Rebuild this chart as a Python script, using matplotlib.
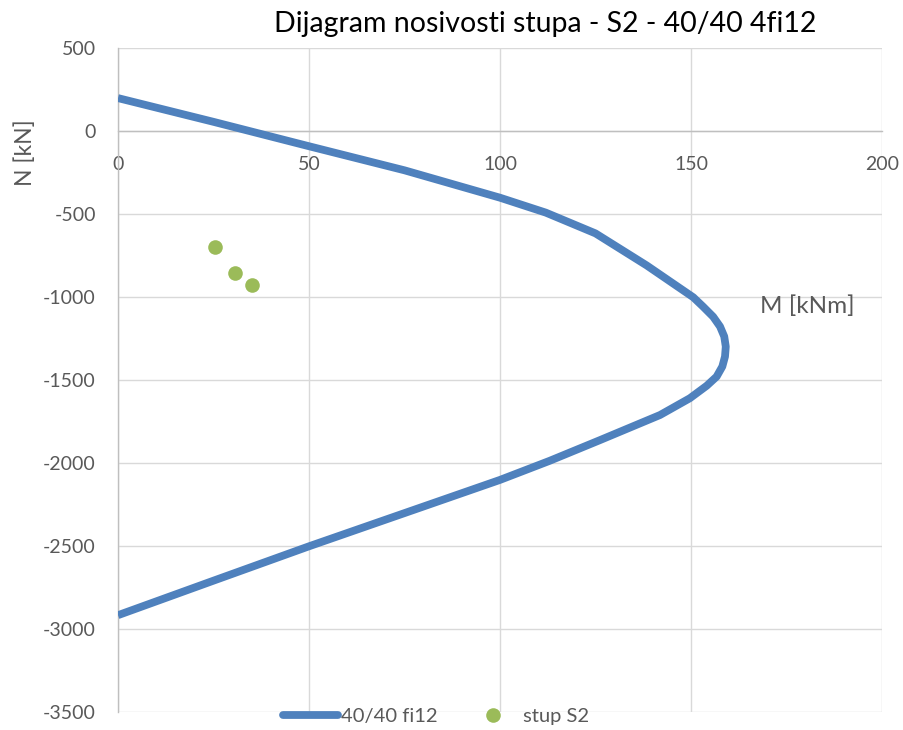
import numpy as np
import matplotlib
matplotlib.use("Agg")
import matplotlib.pyplot as plt
from matplotlib.lines import Line2D

plt.rcParams['font.family'] = ['Lato', 'DejaVu Sans']
plt.rcParams['axes.unicode_minus'] = False

# --- podaci: dijagram nosivosti (M, N) ---
M_kNm = [0, 25, 50, 75, 100, 112, 125, 138.4, 150.6, 153.2, 155.8, 157.6, 158.7, 159.1,
         158.9, 158.2, 156.7, 154.1, 149.7, 141.9, 126.2, 113, 100, 75, 50, 25, 0]
N_kN = [200, 57, -90, -235, -400, -490, -615, -808, -1000, -1057, -1117, -1176, -1236, -1297,
        -1357, -1417, -1478, -1533, -1608, -1709, -1860, -1985, -2100, -2300, -2500, -2707, -2915]

# --- stup S2 (M, N) ---
stup_M = [25.3, 30.6, 35.0]
stup_N = [-697, -856, -928]

x_ticks = [0, 50, 100, 150, 200]
y_ticks = [500, 0, -500, -1000, -1500, -2000, -2500, -3000, -3500]

BLUE = '#4F81BD'
GREEN = '#9BBB59'
GRAY_TXT = '#595959'

fig = plt.figure(figsize=(9.04, 7.30), dpi=100)
ax = fig.add_axes([118 / 904, 1 - 712.3 / 730, 764 / 904, 664 / 730])

ax.plot(M_kNm, N_kN, color=BLUE, linewidth=5.6, solid_joinstyle='round',
        solid_capstyle='butt', zorder=3)
ax.plot(stup_M, stup_N, linestyle='none', marker='o', markersize=10.5,
        color=GREEN, markeredgewidth=0, zorder=4)

ax.set_xlim(0, 200)
ax.set_ylim(-3500, 500)
ax.set_xticks(x_ticks)
ax.set_yticks(y_ticks)

ax.grid(True, color='#D9D9D9', linewidth=1.0)
ax.set_axisbelow(True)

for s in ['top', 'right']:
    ax.spines[s].set_visible(False)
ax.spines['bottom'].set_position(('data', 0))
ax.spines['bottom'].set_color('#BFBFBF')
ax.spines['left'].set_color('#BFBFBF')
ax.spines['bottom'].set_linewidth(1.0)
ax.spines['left'].set_linewidth(1.0)

ax.tick_params(axis='x', length=0, pad=18, labelsize=14, labelcolor=GRAY_TXT)
ax.tick_params(axis='y', length=0, pad=16, labelsize=14, labelcolor=GRAY_TXT)

# naslov i nazivi osi
fig.text(545 / 904, 1 - 32 / 730, 'Dijagram nosivosti stupa - S2 - 40/40 4fi12',
         ha='center', va='baseline', fontsize=20.5, color='black')
fig.text(25 / 904, 1 - 153 / 730, 'N [kN]', rotation=90, ha='center', va='center',
         fontsize=16.5, color=GRAY_TXT)
fig.text(760 / 904, 1 - 313 / 730, 'M [kNm]', ha='left', va='baseline',
         fontsize=17.5, color=GRAY_TXT)

handles = [Line2D([], [], color=BLUE, linewidth=5.6, solid_capstyle='round'),
           Line2D([], [], linestyle='none', marker='o', markersize=10.5,
                  color=GREEN, markeredgewidth=0)]
leg = fig.legend(handles, ['40/40 fi12', 'stup S2'], loc='center',
                 bbox_to_anchor=(436 / 904, 1 - 716 / 730), ncol=2, frameon=False,
                 fontsize=14.5, handlelength=2.7, handletextpad=0.15,
                 columnspacing=1.4, borderpad=0)
for t in leg.get_texts():
    t.set_color(GRAY_TXT)

fig.savefig('out.png', dpi=100)
